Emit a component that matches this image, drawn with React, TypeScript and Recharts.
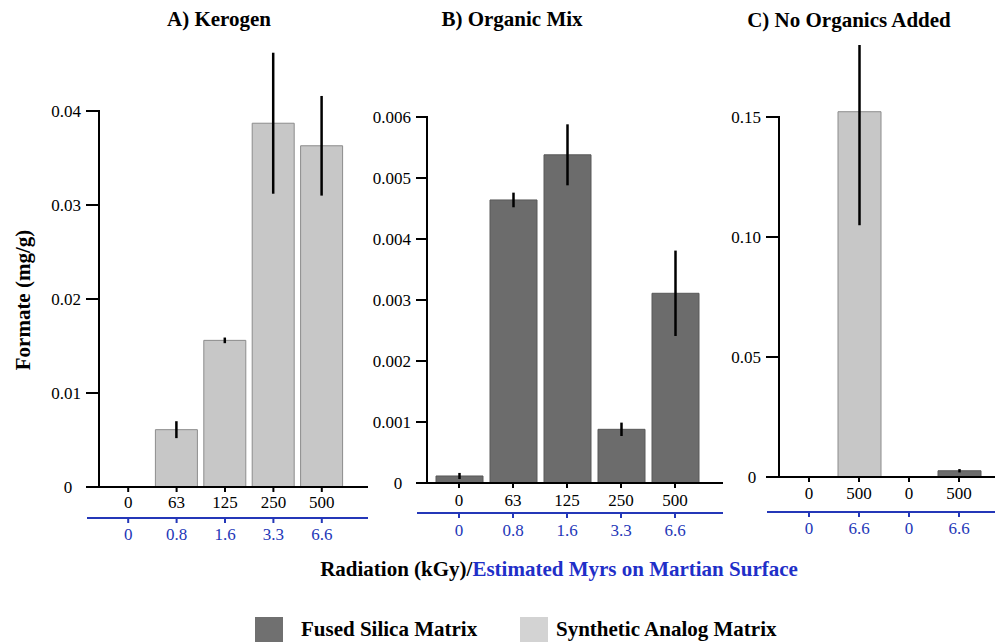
import React from 'react';
import { BarChart, Bar, XAxis, YAxis, ErrorBar, Cell } from 'recharts';

const FONT =
  "'Liberation Serif', 'Times New Roman', Times, 'Nimbus Roman', 'TeX Gyre Termes', Tinos, 'Noto Serif', 'DejaVu Serif', FreeSerif, serif";
const BLUE = '#2437b8';
const FUSED_FILL = '#6c6c6c';
const FUSED_STROKE = '#585858';
const SYNTH_FILL = '#c7c7c7';
const SYNTH_STROKE = '#8c8c8c';

// A) Kerogen — synthetic analog matrix
const kerogenDose = ['0', '63', '125', '250', '500'];
const kerogenMyr = ['0', '0.8', '1.6', '3.3', '6.6'];
const kerogenFormate = [0, 0.0061, 0.0156, 0.0387, 0.0363];
const kerogenErr = [0, 0.0009, 0.0003, 0.0075, 0.0053];
const kerogenMatrix = ['synthetic', 'synthetic', 'synthetic', 'synthetic', 'synthetic'];
const kerogenTicks = [0, 0.01, 0.02, 0.03, 0.04];

// B) Organic mix — fused silica matrix
const mixDose = ['0', '63', '125', '250', '500'];
const mixMyr = ['0', '0.8', '1.6', '3.3', '6.6'];
const mixFormate = [0.000115, 0.00464, 0.00538, 0.00088, 0.00311];
const mixErr = [0.00005, 0.00012, 0.0005, 0.00011, 0.0007];
const mixMatrix = ['fused', 'fused', 'fused', 'fused', 'fused'];
const mixTicks = [0, 0.001, 0.002, 0.003, 0.004, 0.005, 0.006];

// C) No organics added (500 kGy synthetic bar: error bar runs off the top of the panel)
const noOrgDose = ['0', '500', '0', '500'];
const noOrgMyr = ['0', '6.6', '0', '6.6'];
const noOrgFormate = [0, 0.1522, 0, 0.0026];
const noOrgErr: [number, number][] = [[0, 0], [0.0473, 0.0278], [0, 0], [0.0007, 0.0007]];
const noOrgMatrix = ['synthetic', 'synthetic', 'fused', 'fused'];
const noOrgTicks = [0, 0.05, 0.1, 0.15];

const legendItems = [
  { label: 'Fused Silica Matrix', color: '#707070' },
  { label: 'Synthetic Analog Matrix', color: '#d3d3d3' },
];

const MYR_H = 30;

type PanelProps = {
  left: number;
  width: number;
  height: number;
  margin: { top: number; right: number; bottom: number; left: number };
  yLineX: number;
  zeroX: number;
  doseH: number;
  doseGap: number;
  myrGap: number;
  padL: number;
  padR: number;
  barSize: number;
  yMax: number;
  yTicks: number[];
  digits: number;
  dose: string[];
  myr: string[];
  values: number[];
  errs: any[];
  matrix: string[];
};

function Panel(p: PanelProps) {
  const data = p.dose.map((d, i) => ({
    dose: d,
    myr: p.myr[i],
    value: p.values[i],
    err: p.errs[i],
    matrix: p.matrix[i],
  }));

  const fmt = (v: number) => (v === 0 ? '0' : v.toFixed(p.digits));
  // bottom edge of the plot area (where the dose axis sits)
  const plotBottom = p.height - p.margin.bottom - MYR_H - p.doseH;
  const topTick = p.yTicks[p.yTicks.length - 1];

  const YTick = (t: any) => {
    const isZero = t.payload.value === 0;
    return (
      <g>
        <line x1={t.x - 1} x2={t.x + p.yLineX} y1={t.y} y2={t.y} stroke="#000" strokeWidth={2} />
        {t.payload.value === topTick && (
          <line x1={t.x + p.yLineX} x2={t.x + p.yLineX} y1={t.y - 1} y2={plotBottom} stroke="#000" strokeWidth={2} />
        )}
        <text
          x={isZero ? t.x - p.zeroX : t.x - 6}
          y={t.y}
          dy="0.36em"
          textAnchor={isZero ? 'middle' : 'end'}
          fontSize={17}
          style={{ fontFamily: FONT }}
          fill="#000"
        >
          {fmt(t.payload.value)}
        </text>
      </g>
    );
  };

  const DoseTick = (t: any) => (
    <text x={t.x} y={t.y + p.doseGap} dy="0.71em" textAnchor="middle" fontSize={17} style={{ fontFamily: FONT }} fill="#000">
      {data[t.index] ? data[t.index].dose : t.payload.value}
    </text>
  );

  const MyrTick = (t: any) => (
    <text x={t.x} y={t.y + p.myrGap} dy="0.71em" textAnchor="middle" fontSize={17} style={{ fontFamily: FONT }} fill={BLUE}>
      {data[t.index] ? data[t.index].myr : t.payload.value}
    </text>
  );

  return (
    <div style={{ position: 'absolute', left: p.left, top: 0 }}>
      <BarChart width={p.width} height={p.height} data={data} margin={p.margin}>
        <XAxis
          xAxisId="dose"
          dataKey="dose"
          height={p.doseH}
          padding={{ left: p.padL, right: p.padR }}
          interval={0}
          axisLine={{ stroke: '#000', strokeWidth: 2 }}
          tickLine={{ stroke: '#000', strokeWidth: 2 }}
          tickSize={5}
          tickMargin={0}
          tick={DoseTick}
        />
        <XAxis
          xAxisId="myr"
          dataKey="myr"
          height={MYR_H}
          padding={{ left: p.padL, right: p.padR }}
          interval={0}
          axisLine={{ stroke: BLUE, strokeWidth: 2 }}
          tickLine={{ stroke: BLUE, strokeWidth: 2 }}
          tickSize={5}
          tickMargin={0}
          tick={MyrTick}
        />
        <YAxis
          width={60}
          domain={[0, p.yMax]}
          ticks={p.yTicks}
          interval={0}
          axisLine={false}
          tickLine={false}
          tickSize={0}
          tickMargin={0}
          tick={YTick}
        />
        <Bar xAxisId="dose" dataKey="value" barSize={p.barSize} isAnimationActive={false} strokeWidth={1}>
          {data.map((r, i) => (
            <Cell
              key={`c-${i}`}
              fill={r.matrix === 'fused' ? FUSED_FILL : SYNTH_FILL}
              stroke={r.matrix === 'fused' ? FUSED_STROKE : SYNTH_STROKE}
            />
          ))}
          <ErrorBar dataKey="err" width={0} stroke="#000" strokeWidth={2.5} direction="y" isAnimationActive={false} />
        </Bar>
      </BarChart>
    </div>
  );
}

export default function App() {
  return (
    <div style={{ position: 'absolute', left: 0, top: 0, width: 997, height: 642, background: '#fff', overflow: 'hidden' }}>
      <Panel
        left={0}
        width={380}
        height={560}
        margin={{ top: 35.8, right: 12, bottom: 12, left: 27 }}
        yLineX={12}
        zeroX={19}
        doseH={31}
        doseGap={4}
        myrGap={4.6}
        padL={17}
        padR={22}
        barSize={42}
        yMax={0.048}
        yTicks={kerogenTicks}
        digits={2}
        dose={kerogenDose}
        myr={kerogenMyr}
        values={kerogenFormate}
        errs={kerogenErr}
        matrix={kerogenMatrix}
      />
      <Panel
        left={340}
        width={390}
        height={560}
        margin={{ top: 86.5, right: 7, bottom: 17, left: 17 }}
        yLineX={10}
        zeroX={19}
        doseH={30}
        doseGap={5.6}
        myrGap={5.9}
        padL={15}
        padR={21}
        barSize={47}
        yMax={0.0065}
        yTicks={mixTicks}
        digits={3}
        dose={mixDose}
        myr={mixMyr}
        values={mixFormate}
        errs={mixErr}
        matrix={mixMatrix}
      />
      <Panel
        left={700}
        width={297}
        height={560}
        margin={{ top: 45, right: 2, bottom: 18, left: 7 }}
        yLineX={12}
        zeroX={15}
        doseH={35}
        doseGap={5.3}
        myrGap={5.3}
        padL={17}
        padR={11}
        barSize={43}
        yMax={0.18}
        yTicks={noOrgTicks}
        digits={2}
        dose={noOrgDose}
        myr={noOrgMyr}
        values={noOrgFormate}
        errs={noOrgErr}
        matrix={noOrgMatrix}
      />
      <svg width={997} height={642} style={{ position: 'absolute', left: 0, top: 0, pointerEvents: 'none' }}>
        <g style={{ fontFamily: FONT }} fontWeight="bold" fontSize={21} fill="#000">
          <text x={219} y={26} textAnchor="middle">A) Kerogen</text>
          <text x={512} y={26} textAnchor="middle">B) Organic Mix</text>
          <text x={849} y={27} textAnchor="middle">C) No Organics Added</text>
          <text transform="translate(23,300) rotate(-90)" textAnchor="middle" dy="0.35em">Formate (mg/g)</text>
          <text x={559} y={576} textAnchor="middle">
            <tspan fill="#000">Radiation (kGy)/</tspan>
            <tspan fill="#1f2fc8">Estimated Myrs on Martian Surface</tspan>
          </text>
          {legendItems.map((it, i) => (
            <g key={it.label}>
              <rect x={255 + i * 265} y={617} width={28} height={30} fill={it.color} />
              <text x={301 + i * 255} y={636}>{it.label}</text>
            </g>
          ))}
        </g>
      </svg>
    </div>
  );
}
